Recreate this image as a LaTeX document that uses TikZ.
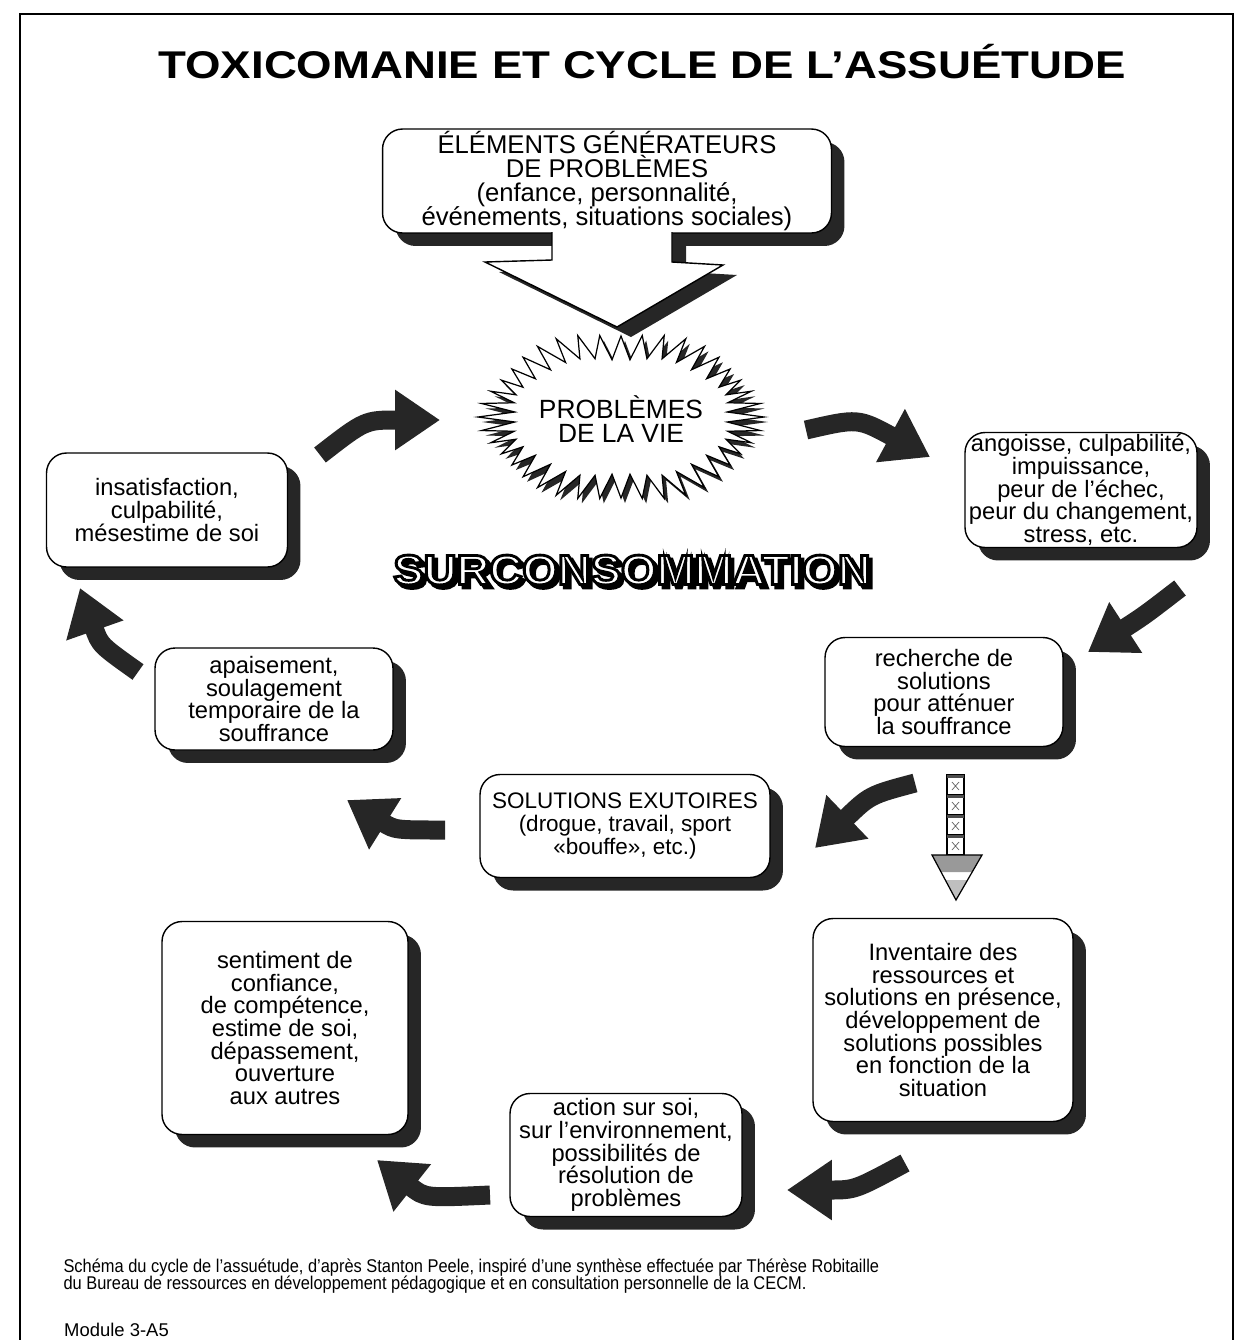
\documentclass[tikz,border=0pt]{standalone}
\usepackage{fontspec}
\setmainfont{Liberation Sans}
\usetikzlibrary{arrows.meta}
\usetikzlibrary{shadows}
\usetikzlibrary{positioning}
\lineskiplimit=-10pt
% outlined letters: fill in the current colour, black stroke
\newcommand{\outlinetext}[2]{%
  \special{pdf:literal direct 0 G 2 Tr #1 w}#2\special{pdf:literal direct 0 Tr}}
\tikzset{
% rounded box with its dark shadow
cyclebox/.style={rectangle, rounded corners=0.4cm, draw=black, line width=0.8pt,
  fill=white, align=center, inner sep=0,
  font=\fontsize{13.5}{12.9}\selectfont,
  drop shadow={shadow xshift=0.26cm, shadow yshift=-0.26cm, fill=black!85, opacity=1}},
% thick curved arrows of the cycle
bigarrow/.style={line width=0.38cm, draw=black!85,
  -{Triangle[length=0.9cm, width=1.15cm]}},
}

\begin{document}
\begin{tikzpicture}[x=0.02cm, y=-0.02cm]
  \useasboundingbox (0,0) rectangle (1239,1340);
  \draw[line width=0.6pt] (20,1340) -- (20,14) -- (1233,14) -- (1233,1340);

  \node[transform shape, xscale=1.18, font=\fontsize{22}{22}\selectfont\bfseries] (titre) at (642,62)
    {TOXICOMANIE ET CYCLE DE L’ASSUÉTUDE};

  \node[cyclebox, minimum width=8.98cm, minimum height=2.08cm,
    font=\fontsize{14.6}{13.8}\selectfont] (gen) at (607,181)
    {ÉLÉMENTS GÉNÉRATEURS\\DE PROBLÈMES\\(enfance, personnalité,\\événements, situations sociales)};

  % big arrow under the first box
  \fill[black!85] (566,236) -- (566,270) -- (499,272) -- (631,337) -- (737,275) -- (686,272) -- (686,236) -- cycle;
  \fill[white] (552,229) -- (552,260) -- (485,262) -- (617,327) -- (723,265) -- (672,262) -- (672,229) -- cycle;
  \draw[line width=0.8pt, line join=miter] (552,232) -- (552,260) -- (485,262) -- (617,327) -- (723,265) -- (672,262) -- (672,232);

  % star burst
  \fill[black!85] plot[samples at={0,4.5,...,355.5}]
    ({625+(143-28*mod(round(\x/4.5),2)-9*(sin(23*\x))^2)*cos(\x)},
     {422+(88-24*mod(round(\x/4.5),2)-7*(sin(37*\x))^2)*sin(\x)}) -- cycle;
  \draw[fill=white, line width=0.7pt] plot[samples at={0,4.5,...,355.5}]
    ({621+(143-28*mod(round(\x/4.5),2)-9*(sin(23*\x))^2)*cos(\x)},
     {417+(88-24*mod(round(\x/4.5),2)-7*(sin(37*\x))^2)*sin(\x)}) -- cycle;
  \node[align=center, font=\fontsize{15}{14}\selectfont] (vie) at (621,419) {PROBLÈMES\\DE LA VIE};

  \node[transform shape, xscale=1.08, font=\fontsize{24}{24}\selectfont\bfseries] (sur-ombre) at (635.5,573.5)
    {\color{black}\outlinetext{1.6}{SURCONSOMMATION}};
  \node[transform shape, xscale=1.08, font=\fontsize{24}{24}\selectfont\bfseries] (sur) at (632,570)
    {\color{white}\outlinetext{1.6}{SURCONSOMMATION}};

  \node[cyclebox, minimum width=4.64cm, minimum height=2.30cm] (ango) at (1081,490)
    {angoisse, culpabilité,\\impuissance,\\peur de l’échec,\\peur du changement,\\stress, etc.};
  \node[cyclebox, minimum width=4.82cm, minimum height=2.28cm] (insat) at (167,510)
    {insatisfaction,\\culpabilité,\\mésestime de soi};
  \node[cyclebox, minimum width=4.76cm, minimum height=2.18cm] (recherche) at (944,692)
    {recherche de\\solutions\\pour atténuer\\la souffrance};
  \node[cyclebox, minimum width=4.76cm, minimum height=2.04cm] (apais) at (274,699)
    {apaisement,\\soulagement\\temporaire de la\\souffrance};
  \node[cyclebox, minimum width=5.80cm, minimum height=2.06cm,
    font=\fontsize{12.8}{13}\selectfont] (exut) at (625,826)
    {SOLUTIONS EXUTOIRES\\(drogue, travail, sport\\«bouffe», etc.)};
  \node[cyclebox, minimum width=4.92cm, minimum height=4.26cm] (sentim) at (285,1028)
    {sentiment de\\confiance,\\de compétence,\\estime de soi,\\dépassement,\\ouverture\\aux autres};
  \node[cyclebox, minimum width=5.20cm, minimum height=4.06cm] (invent) at (943,1020)
    {Inventaire des\\ressources et\\solutions en présence,\\développement de\\solutions possibles\\en fonction de la\\situation};
  \node[cyclebox, minimum width=4.64cm, minimum height=2.46cm] (action) at (626,1155)
    {action sur soi,\\sur l’environnement,\\possibilités de\\résolution de\\problèmes};

  % ends of the curved arrows
  \coordinate (f1-a) at (806,430);  \coordinate (f1-b) at (930,457);
  \coordinate (f2-a) at (1180,588); \coordinate (f2-b) at (1088,652);
  \coordinate (f3-a) at (915,783);  \coordinate (f3-b) at (815,848);
  \coordinate (f4-a) at (445,830);  \coordinate (f4-b) at (347,800);
  \coordinate (f5-a) at (138,672);  \coordinate (f5-b) at (80,588);
  \coordinate (f6-a) at (320,455);  \coordinate (f6-b) at (440,420);
  \coordinate (f7-a) at (905,1163); \coordinate (f7-b) at (787,1190);
  \coordinate (f8-a) at (490,1195); \coordinate (f8-b) at (377,1160);

  \draw[bigarrow] (f1-a) .. controls (858,418) .. (f1-b);
  \draw[bigarrow] (f2-a) .. controls (1145,615) .. (f2-b);
  \draw[bigarrow] (f3-a) .. controls (870,795) .. (f3-b);
  \draw[bigarrow] (f4-a) .. controls (395,830) .. (f4-b);
  \draw[bigarrow] (f5-a) .. controls (100,645) .. (f5-b);
  \draw[bigarrow] (f6-a) .. controls (365,420) .. (f6-b);
  \draw[bigarrow] (f7-a) .. controls (855,1190) .. (f7-b);
  \draw[bigarrow] (f8-a) .. controls (425,1198) .. (f8-b);

  % segmented arrow down to the inventory
  \foreach \y in {775,795,815,835} {
    \draw[fill=white, line width=0.6pt] (947,\y) rectangle (964,\y+20);
    \fill[black!70] (947,\y) rectangle (964,\y+3);
    \draw[line width=0.4pt, black!60] (952,\y+7) -- (959,\y+15) (952,\y+15) -- (959,\y+7);
  }
  \fill[white] (932,855) -- (982,855) -- (956,900) -- cycle;
  \fill[black!40] (932,855) -- (982,855) -- (972,872) -- (941,872) -- cycle;
  \fill[black!25] (945,880) -- (968,880) -- (956,900) -- cycle;
  \draw[line width=0.7pt] (932,855) -- (982,855) -- (956,900) -- cycle;

  \node[anchor=west, align=left, transform shape, xscale=0.89,
    font=\fontsize{10.5}{9.6}\selectfont] (source) at (58,1276)
    {Schéma du cycle de l’assuétude, d’après Stanton Peele, inspiré d’une synthèse effectuée par Thérèse Robitaille\\
     du Bureau de ressources en développement pédagogique et en consultation personnelle de la CECM.};
  \node[anchor=west, font=\fontsize{10.5}{10.5}\selectfont] (module) at (58,1330) {Module 3-A5};
\end{tikzpicture}
\end{document}
